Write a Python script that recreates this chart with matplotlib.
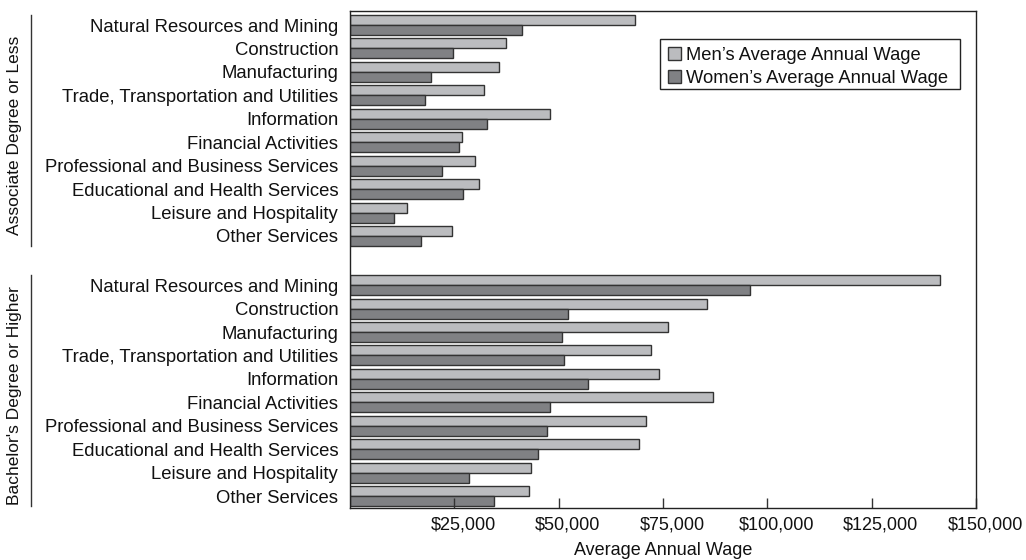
import matplotlib
matplotlib.use("Agg")
import matplotlib.pyplot as plt
from matplotlib.lines import Line2D
from matplotlib.patches import Rectangle
from matplotlib.transforms import blended_transform_factory, ScaledTranslation
import numpy as np

plt.rcParams['font.family'] = ['Liberation Sans', 'DejaVu Sans']

industries = ["Natural Resources and Mining", "Construction", "Manufacturing",
              "Trade, Transportation and Utilities", "Information", "Financial Activities",
              "Professional and Business Services", "Educational and Health Services",
              "Leisure and Hospitality", "Other Services"]
groups = ["Associate Degree or Less", "Bachelor's Degree or Higher"]

men_assoc = [68300, 37400, 35800, 32000, 48000, 26800, 29900, 30800, 13700, 24500]
women_assoc = [41200, 24600, 19300, 18000, 32800, 26200, 22000, 27000, 10500, 16900]
men_bach = [141300, 85500, 76100, 72100, 74100, 86900, 71000, 69200, 43300, 42900]
women_bach = [95900, 52300, 50700, 51200, 57100, 47900, 47300, 45000, 28600, 34400]

ticks = [25000, 50000, 75000, 100000, 125000, 150000]
tick_labels = ["$25,000", "$50,000", "$75,000", "$100,000", "$125,000", "$150,000"]

men_color = "#bbbcbf"
women_color = "#808184"
edge = "#333333"

fig = plt.figure(figsize=(10.26, 5.6), dpi=100)
ax = fig.add_axes([350/1026, 1 - 508/560, 626/1026, 497/560])

n = len(industries)
pos_a = np.arange(n, dtype=float)
pos_b = np.arange(n, dtype=float) + n + 1.1
h = 0.427

ax.barh(pos_a - h/2, men_assoc, height=h, color=men_color, edgecolor=edge, linewidth=1.0,
        label="Men\u2019s Average Annual Wage")
ax.barh(pos_a + h/2, women_assoc, height=h, color=women_color, edgecolor=edge, linewidth=1.0,
        label="Women\u2019s Average Annual Wage")
ax.barh(pos_b - h/2, men_bach, height=h, color=men_color, edgecolor=edge, linewidth=1.0)
ax.barh(pos_b + h/2, women_bach, height=h, color=women_color, edgecolor=edge, linewidth=1.0)

ax.set_xlim(0, 150000)
ax.set_ylim(pos_b[-1] + 0.51, -0.6)

ax.set_yticks(list(pos_a) + list(pos_b))
ax.set_yticklabels(industries + industries, fontsize=13.3, color="#111111")
ax.tick_params(axis='y', length=0, pad=8.5)

ax.set_xticks(ticks)
ax.set_xticklabels(tick_labels, fontsize=13, color="#111111")
ax.tick_params(axis='x', direction='in', length=7, width=1, color="#333333", pad=6)
shift = ScaledTranslation(9/100, 0, fig.dpi_scale_trans)
for lab in ax.get_xticklabels():
    lab.set_transform(lab.get_transform() + shift)
ax.set_xlabel("Average Annual Wage", fontsize=13, labelpad=6.5, color="#111111")

for s in ax.spines.values():
    s.set_color("#222222")
    s.set_linewidth(1.0)

leg = ax.legend(loc='upper left', bbox_to_anchor=(668/1026, 1 - 46.5/560),
                bbox_transform=fig.transFigure, fontsize=13.2, frameon=False,
                handlelength=0.72, handleheight=0.72,
                handletextpad=0.27, borderpad=0, borderaxespad=0,
                labelspacing=0.35)
for t in leg.get_texts():
    t.set_color("#111111")
fig.add_artist(Rectangle((660/1026, 1 - 89/560), 300/1026, 50/560,
                         transform=fig.transFigure, fill=False,
                         edgecolor="#222222", linewidth=1.0))

trans = blended_transform_factory(fig.transFigure, ax.transData)
for g, pos in zip(groups, [pos_a, pos_b]):
    fig.add_artist(Line2D([31/1026, 31/1026], [pos[0] - h, pos[-1] + h],
                          transform=trans, color="#333333", linewidth=1.0))
    fig.text(15/1026, (pos[0] + pos[-1]) / 2 + 0.2, g, transform=trans, rotation=90,
             ha='center', va='center', fontsize=12.5, color="#111111")

fig.savefig("out.png", dpi=100)
